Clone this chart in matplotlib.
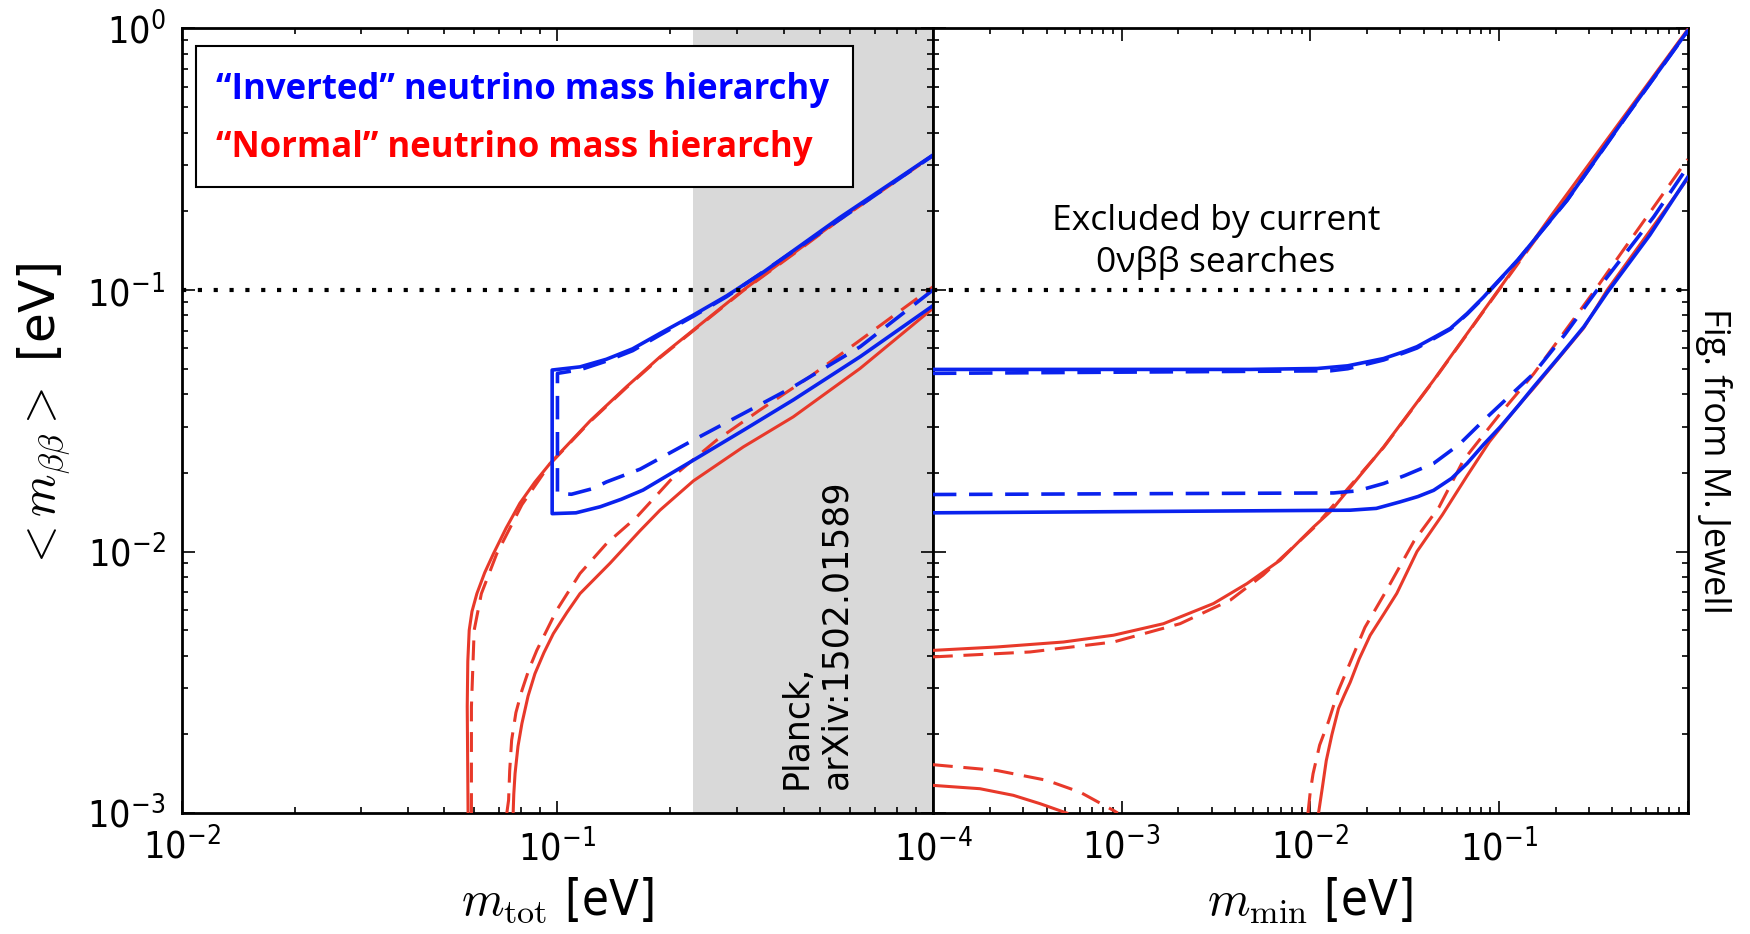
import numpy as np
import matplotlib
matplotlib.use("Agg")
import matplotlib.pyplot as plt
from matplotlib import font_manager as fm
from matplotlib.patches import Rectangle

plt.rcParams["font.family"] = "DejaVu Sans"
plt.rcParams["mathtext.fontset"] = "cm"

# ---------------- m_tot panel (left) ----------------
# inverted hierarchy, solid: lower edge then upper edge (joined by the vertical at m_tot min)
ih_tot_lo_x = [0.0968, 0.112, 0.130, 0.148, 0.169, 0.230, 0.313, 0.425, 0.640, 1.0]
ih_tot_lo_y = [0.01396, 0.01406, 0.01483, 0.01585, 0.01718, 0.02234, 0.02911, 0.03802, 0.05559, 0.0871]
ih_tot_hi_x = [0.0968, 0.1148, 0.1349, 0.1585, 0.1875, 0.2301, 0.2825, 0.3548, 0.4246, 0.5623, 0.7586, 1.0]
ih_tot_hi_y = [0.04943, 0.05082, 0.05433, 0.05957, 0.06823, 0.08017, 0.09506, 0.1175, 0.1413, 0.1884, 0.2512, 0.3281]
# inverted hierarchy, dashed
ih_tot_lo_x_d = [0.100, 0.109, 0.1245, 0.135, 0.166, 0.230, 0.313, 0.425, 0.640, 1.0]
ih_tot_lo_y_d = [0.01667, 0.01656, 0.01742, 0.01845, 0.02065, 0.02667, 0.03373, 0.04266, 0.06067, 0.100]
ih_tot_hi_x_d = [0.100, 0.1148, 0.1349, 0.1585, 0.1875, 0.2301, 0.2825, 0.4246, 1.0]
ih_tot_hi_y_d = [0.0480, 0.04955, 0.05346, 0.05861, 0.0673, 0.0794, 0.0944, 0.1406, 0.3266]

# normal hierarchy
nh_tot_hi_x = [0.0578, 0.0575, 0.0577, 0.0582, 0.0592, 0.0610, 0.0640, 0.0675, 0.0730, 0.0794, 0.0870,
               0.0955, 0.1222, 0.1528, 0.1875, 0.2301, 0.3126, 0.4246, 0.5623, 1.0]
nh_tot_hi_y = [0.001, 0.00255, 0.0038, 0.0050, 0.0059, 0.0069, 0.0083, 0.0098, 0.0123, 0.0153, 0.0184,
               0.0217, 0.0316, 0.0427, 0.0555, 0.0703, 0.100, 0.138, 0.186, 0.328]
nh_tot_hi_x_d = [0.0590, 0.0590, 0.0600, 0.0627, 0.0689, 0.0804, 0.0955, 0.1222, 0.1528, 0.1875, 0.2301, 0.3126, 0.4246, 0.5623, 1.0]
nh_tot_hi_y_d = [0.001, 0.00255, 0.0050, 0.0069, 0.0098, 0.0151, 0.0216, 0.0314, 0.0424, 0.0551, 0.0699, 0.0995, 0.137, 0.185, 0.326]
nh_tot_lo_x = [0.0762, 0.0765, 0.0771, 0.0785, 0.0804, 0.0835, 0.0871, 0.0920, 0.0975, 0.1060, 0.1148, 0.1380,
               0.1660, 0.1875, 0.2301, 0.3126, 0.4246, 0.6397, 1.0]
nh_tot_lo_y = [0.001, 0.00118, 0.001416, 0.00180, 0.002198, 0.00280, 0.003412, 0.00410, 0.004853, 0.00585,
               0.006902, 0.009016, 0.01202, 0.01439, 0.01862, 0.02512, 0.03273, 0.05012, 0.0851]
nh_tot_lo_x_d = [0.0733, 0.0741, 0.0746, 0.0755, 0.0775, 0.0804, 0.0840, 0.0881, 0.0995, 0.1148, 0.1352, 0.1626,
                 0.2075, 0.2655, 0.3459, 0.4699, 0.6397, 1.0]
nh_tot_lo_y_d = [0.001, 0.00112, 0.00145, 0.00190, 0.00242, 0.00294, 0.00355, 0.00419, 0.00596, 0.00824, 0.01074,
                 0.01355, 0.01986, 0.02667, 0.03475, 0.04656, 0.06427, 0.1028]

planck_limit = 0.23
excluded_limit = 0.1

# ---------------- m_min panel (right) ----------------
ih_min_hi_x = [1e-4, 0.0048, 0.0109, 0.0158, 0.0245, 0.0316, 0.0368, 0.0457, 0.0553, 0.0679, 0.0832, 0.0902,
               0.1259, 0.2301, 0.4786, 1.0]
ih_min_hi_y = [0.0497, 0.0497, 0.0501, 0.0513, 0.0547, 0.0582, 0.0607, 0.0661, 0.0713, 0.0813, 0.0942, 0.1005,
               0.1303, 0.2208, 0.4677, 0.977]
ih_min_hi_x_d = [1e-4, 0.0128, 0.0158, 0.0245, 0.0316, 0.0368, 0.0457, 0.0553, 0.0679, 0.0832, 0.1259, 0.2301, 0.4786, 1.0]
ih_min_hi_y_d = [0.0480, 0.0491, 0.0500, 0.0540, 0.0576, 0.0600, 0.0655, 0.0708, 0.0809, 0.0938, 0.1300, 0.2203, 0.466, 0.975]
ih_min_lo_x = [1e-4, 0.0163, 0.0224, 0.0300, 0.0372, 0.0451, 0.0562, 0.0679, 0.0832, 0.1019, 0.1259, 0.1531,
               0.2089, 0.2818, 0.3750, 0.631, 1.0]
ih_min_lo_y = [0.01406, 0.01439, 0.01462, 0.01549, 0.01622, 0.01714, 0.01905, 0.02173, 0.02570, 0.03000, 0.03589,
               0.04266, 0.05559, 0.07228, 0.09772, 0.1622, 0.2692]
ih_min_lo_x_d = [1e-4, 0.0133, 0.0178, 0.0245, 0.0316, 0.0451, 0.0617, 0.0832, 0.1122, 0.1531, 0.2239, 0.3319, 0.6622, 1.0]
ih_min_lo_y_d = [0.01652, 0.01675, 0.01706, 0.01820, 0.01950, 0.02173, 0.02570, 0.03177, 0.03890, 0.04797, 0.06761,
                 0.1000, 0.1905, 0.2951]

nh_min_hi_x = [1e-4, 2.178e-4, 4.91e-4, 9.06e-4, 1.667e-3, 3.069e-3, 4.613e-3, 6.934e-3, 0.01042, 0.01276,
               0.02449, 0.04508, 0.100, 0.1875, 1.0]
nh_min_hi_y = [0.004188, 0.004315, 0.004508, 0.004786, 0.005297, 0.006324, 0.007534, 0.009268, 0.01242, 0.01419,
               0.02512, 0.04519, 0.1005, 0.1905, 0.989]
nh_min_hi_x_d = [1e-4, 3.273e-4, 9.06e-4, 2.042e-3, 3.767e-3, 5.623e-3, 0.01042, 0.02449, 0.04508, 0.100, 1.0]
nh_min_hi_y_d = [0.003954, 0.00413, 0.004508, 0.005297, 0.006516, 0.008128, 0.0123, 0.025, 0.045, 0.100, 0.984]
nh_min_lo_x = [0.01107, 0.01161, 0.01216, 0.01303, 0.01413, 0.01514, 0.01629, 0.01820, 0.02080, 0.02449, 0.02877,
               0.03681, 0.05012, 0.06792, 0.08913, 0.1250, 0.1531, 0.2818, 0.3750, 1.0]
nh_min_lo_y = [0.001, 0.001259, 0.001585, 0.001995, 0.002512, 0.002818, 0.003162, 0.003890, 0.004786, 0.005754,
               0.006918, 0.0100, 0.01380, 0.01950, 0.02630, 0.03573, 0.04217, 0.07161, 0.1000, 0.2661]
nh_min_lo_x_d = [0.00973, 0.0100, 0.01035, 0.01122, 0.01250, 0.01413, 0.0166, 0.01950, 0.02529, 0.03548, 0.04819,
                 0.06501, 0.1019, 0.1531, 0.3251, 1.0]
nh_min_lo_y_d = [0.001, 0.001202, 0.001413, 0.001820, 0.002239, 0.002951, 0.00389, 0.005129, 0.007079, 0.01096,
                 0.01479, 0.02239, 0.03373, 0.04786, 0.1005, 0.3162]
# small branch near the origin
nh_min_tail_x = [1e-4, 1.774e-4, 2.667e-4, 3.698e-4, 5.117e-4]
nh_min_tail_y = [0.001276, 0.001239, 0.001169, 0.001086, 0.001]
nh_min_tail_x_d = [1e-4, 2.178e-4, 4.009e-4, 6.026e-4, 9.057e-4, 9.55e-4]
nh_min_tail_y_d = [0.001531, 0.001455, 0.001334, 0.001202, 0.001023, 0.001]

blue = "#0a22ee"
red = "#e8392a"
lw_b = 2.6
lw_r = 2.2
dash = (6.5, 3.5)

# narrow face for the axis numbers if one is installed
cond = [f for f in fm.fontManager.ttflist
        if f.name == "DejaVu Sans" and str(f.stretch) in ("condensed", "semi-condensed")
        and f.style == "normal" and f.weight in (400, "normal", "regular")]
narrow = [f for f in fm.fontManager.ttflist
          if f.name == "Liberation Sans Narrow" and f.style == "normal" and f.weight in (400, "normal", "regular")]
if cond:
    tick_font = fm.FontProperties(fname=cond[0].fname, size=27)
    lab_font = fm.FontProperties(fname=cond[0].fname, size=35)
elif narrow:
    tick_font = fm.FontProperties(fname=narrow[0].fname, size=28)
    lab_font = fm.FontProperties(fname=narrow[0].fname, size=36)
else:
    tick_font = fm.FontProperties(family="DejaVu Sans", size=24)
    lab_font = fm.FontProperties(family="DejaVu Sans", size=33)

fig = plt.figure(figsize=(17.5, 9.34), dpi=100)
ax1 = fig.add_axes([0.104, 0.1295, 0.4291, 0.840])
ax2 = fig.add_axes([0.5331, 0.1295, 0.4312, 0.840])

def red_line(ax, x, y, dashed=False):
    kw = dict(color=red, lw=lw_r, zorder=3)
    if dashed:
        kw["dashes"] = dash
    ax.plot(x, y, **kw)

def blue_line(ax, x, y, dashed=False):
    kw = dict(color=blue, lw=lw_b, zorder=4)
    if dashed:
        kw["dashes"] = dash
    ax.plot(x, y, **kw)

# left panel
ax1.axvspan(planck_limit, 1.0, color="#d9d9d9", lw=0, zorder=0)
red_line(ax1, nh_tot_hi_x, nh_tot_hi_y)
red_line(ax1, nh_tot_hi_x_d, nh_tot_hi_y_d, dashed=True)
red_line(ax1, nh_tot_lo_x, nh_tot_lo_y)
red_line(ax1, nh_tot_lo_x_d, nh_tot_lo_y_d, dashed=True)
blue_line(ax1, ih_tot_lo_x[::-1] + ih_tot_hi_x, ih_tot_lo_y[::-1] + ih_tot_hi_y)
blue_line(ax1, ih_tot_lo_x_d[::-1] + ih_tot_hi_x_d, ih_tot_lo_y_d[::-1] + ih_tot_hi_y_d, dashed=True)

# right panel
red_line(ax2, nh_min_hi_x, nh_min_hi_y)
red_line(ax2, nh_min_hi_x_d, nh_min_hi_y_d, dashed=True)
red_line(ax2, nh_min_lo_x, nh_min_lo_y)
red_line(ax2, nh_min_lo_x_d, nh_min_lo_y_d, dashed=True)
red_line(ax2, nh_min_tail_x, nh_min_tail_y)
red_line(ax2, nh_min_tail_x_d, nh_min_tail_y_d, dashed=True)
blue_line(ax2, ih_min_hi_x, ih_min_hi_y)
blue_line(ax2, ih_min_hi_x_d, ih_min_hi_y_d, dashed=True)
blue_line(ax2, ih_min_lo_x, ih_min_lo_y)
blue_line(ax2, ih_min_lo_x_d, ih_min_lo_y_d, dashed=True)

for ax in (ax1, ax2):
    ax.axhline(excluded_limit, color="k", lw=3.0, dashes=(1, 2.8), zorder=5)
    ax.set_xscale("log")
    ax.set_yscale("log")
    ax.set_ylim(1e-3, 1.0)
    ax.tick_params(which="both", direction="in", top=True, right=True, width=1.2)
    ax.tick_params(which="major", length=9)
    ax.tick_params(which="minor", length=4.5)
    ax.tick_params(axis="x", pad=11)
    ax.tick_params(axis="y", pad=12)
    for sp in ax.spines.values():
        sp.set_linewidth(2.0)

ax1.set_xlim(1e-2, 1.0)
ax1.set_xticks([1e-2, 1e-1, 1.0])
ax1.set_xticklabels([r"$\mathdefault{10^{-2}}$", r"$\mathdefault{10^{-1}}$", ""])
ax1.set_yticks([1e-3, 1e-2, 1e-1, 1.0])
ax1.set_yticklabels([r"$\mathdefault{10^{-3}}$", r"$\mathdefault{10^{-2}}$",
                     r"$\mathdefault{10^{-1}}$", r"$\mathdefault{10^{0}}$"])
ax2.set_xlim(1e-4, 1.0)
ax2.set_xticks([1e-4, 1e-3, 1e-2, 1e-1, 1.0])
ax2.set_xticklabels([r"$\mathdefault{10^{-4}}$", r"$\mathdefault{10^{-3}}$",
                     r"$\mathdefault{10^{-2}}$", r"$\mathdefault{10^{-1}}$", ""])
ax2.set_yticks([1e-3, 1e-2, 1e-1, 1.0])
ax2.set_yticklabels([])
for ax in (ax1, ax2):
    for lab in ax.get_xticklabels() + ax.get_yticklabels():
        lab.set_fontproperties(tick_font)

ax1.set_xlabel(r"$m_{\rm tot}$ [eV]", fontproperties=lab_font)
ax1.xaxis.set_label_coords(0.5, -0.080)
ax2.set_xlabel(r"$m_{\rm min}$ [eV]", fontproperties=lab_font)
ax2.xaxis.set_label_coords(0.5, -0.080)
ax1.set_ylabel(r"$<m_{\beta\beta}>$ [eV]", fontsize=35)
ax1.yaxis.set_label_coords(-0.145, 0.505)

# hierarchy key
ax1.add_patch(Rectangle((0.018, 0.798), 0.875, 0.180, transform=ax1.transAxes,
                        facecolor="white", edgecolor="k", lw=1.5, zorder=6))
ax1.text(0.045, 0.922, "\u201cInverted\u201d neutrino mass hierarchy", transform=ax1.transAxes,
         color="#0000ff", fontsize=25, fontweight="bold", family="Open Sans",
         va="center", ha="left", zorder=7)
ax1.text(0.045, 0.848, "\u201cNormal\u201d neutrino mass hierarchy", transform=ax1.transAxes,
         color="#ff0000", fontsize=25, fontweight="bold", family="Open Sans",
         va="center", ha="left", zorder=7)

ax1.text(0.49, 1.24e-3, "Planck,\narXiv:1502.01589", rotation=90, fontsize=25,
         ha="center", va="bottom", multialignment="left", zorder=6)

ax2.text(0.375, 0.728, "Excluded by current\n0\u03bd\u03b2\u03b2 searches", transform=ax2.transAxes,
         fontsize=25.5, family="Open Sans", ha="center", va="center", linespacing=1.3, zorder=6)

fig.text(0.979, 0.507, "Fig. from M. Jewell", rotation=270, fontsize=26,
         family="Open Sans", ha="center", va="center")

fig.savefig("out.png", dpi=100)
